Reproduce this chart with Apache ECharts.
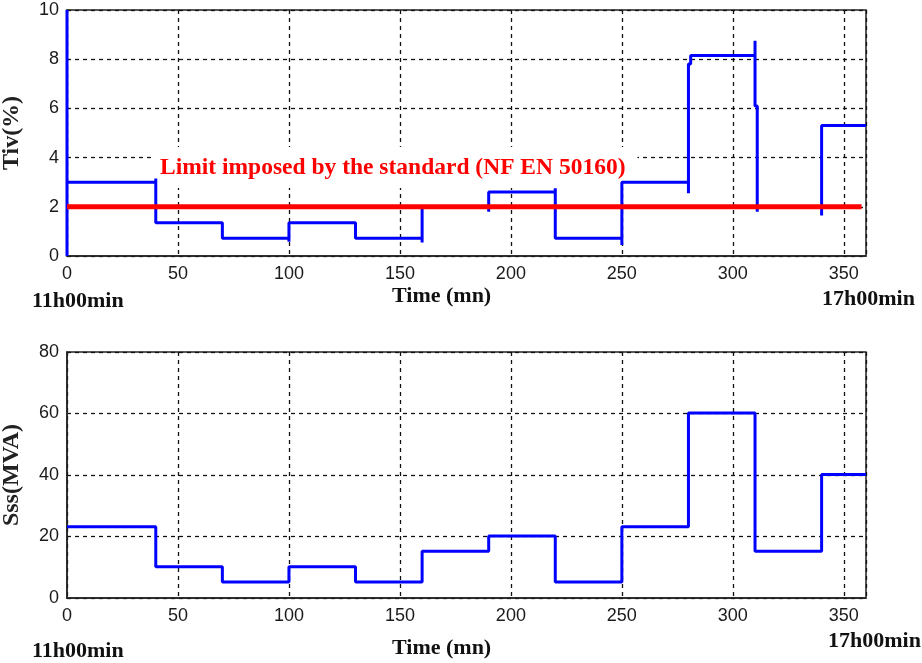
<!DOCTYPE html>
<html>
<head>
<meta charset="utf-8">
<script src="https://cdn.jsdelivr.net/npm/echarts@6/dist/echarts.min.js"></script>
<style>
html,body{margin:0;padding:0;background:#fff;}
#chart{width:922px;height:663px;}
</style>
</head>
<body>
<div id="chart"></div>
<script>
// Top panel: Tiv (%) vs time (mn)
var tivTime  = [0,0,0, 40,40,40, 70,70, 100,100,100, 130,130, 160,160,160, 190,190,190, 220,220,220, 250,250,250, 280,280,280, 281,281, 310,310,310, 311,311,311, 340,340,340, 360];
var tivValue = [0,10,3.0, 3.0,3.15,1.35, 1.35,0.72, 0.72,0.58,1.35, 1.35,0.72, 0.72,0.55,2.0, 2.0,1.8,2.6, 2.6,2.75,0.72, 0.72,0.45,3.0, 3.0,2.55,7.8, 7.8,8.15, 8.15,8.75,6.1, 6.1,1.8,2.0, 2.0,1.65,5.3, 5.3];
// Limit imposed by the standard
var limitTime  = [0, 358];
var limitValue = [2, 2];
// Bottom panel: Sss (MVA) vs time (mn), stepwise
var sssTime  = [0, 40, 70, 100, 130, 160, 190, 220, 250, 280, 310, 340, 360];
var sssValue = [23.2, 10.2, 5.2, 10.2, 5.2, 15.2, 20.2, 5.2, 23.2, 60.2, 15.2, 40.2, 40.2];
// Axis settings
var xMin = 0, xMax = 360, xStep = 50;
var tivMin = 0, tivMax = 10, tivStep = 2;
var sssMin = 0, sssMax = 80, sssStep = 20;

function pairs(xs, ys){ return xs.map(function(x,i){ return [x, ys[i]]; }); }

var chart = echarts.init(document.getElementById('chart'), null, {renderer:'canvas'});

var tickFont = {color:'#1a1a1a', fontSize:18, fontFamily:'Liberation Sans, Arial, sans-serif'};
var splitDash = {show:true, lineStyle:{color:'#111', type:[4,4], width:1.3}};
var nameFont = {color:'#222', fontSize:24, fontWeight:'bold', fontFamily:'Liberation Serif, Times New Roman, serif'};

function xAxis(gi){
  return {type:'value', gridIndex:gi, min:xMin, max:xMax, interval:xStep,
    axisLine:{show:true, lineStyle:{color:'#222', width:1.5}},
    axisTick:{show:false},
    axisLabel:Object.assign({margin:9}, tickFont),
    splitLine:splitDash};
}
function yAxis(gi, mn, mx, st, name){
  return {type:'value', gridIndex:gi, min:mn, max:mx, interval:st,
    name:name, nameLocation:'middle', nameGap:43, nameTextStyle:nameFont,
    axisLine:{show:true, lineStyle:{color:'#222', width:1.5}},
    axisTick:{show:false},
    axisLabel:Object.assign({margin:8}, tickFont),
    splitLine:splitDash};
}

var serifBold = 'bold 22px "Liberation Serif", "Times New Roman", serif';

chart.setOption({
  animation:false,
  backgroundColor:'#fff',
  grid:[
    {left:67, top:10, right:56, height:246, containLabel:false, outerBoundsMode:'none', show:true, borderColor:'#222', borderWidth:1.5, backgroundColor:'transparent'},
    {left:67, top:352, right:56, height:246, containLabel:false, outerBoundsMode:'none', show:true, borderColor:'#222', borderWidth:1.5, backgroundColor:'transparent'}
  ],
  xAxis:[xAxis(0), xAxis(1)],
  yAxis:[yAxis(0, tivMin, tivMax, tivStep, 'Tiv(%)'), yAxis(1, sssMin, sssMax, sssStep, 'Sss(MVA)')],
  graphic:[
    {type:'text', z:1, left:153, top:147, style:{text:'Limit imposed by the standard (NF EN 50160)', font:'bold 23.5px "Liberation Serif", "Times New Roman", serif', fill:'#ff0000', backgroundColor:'#fff', padding:[9,12,8,7]}},
    {type:'text', left:392, top:285, style:{text:'Time (mn)', font:serifBold, fill:'#111'}},
    {type:'text', left:32, top:290, style:{text:'11h00min', font:serifBold, fill:'#111'}},
    {type:'text', left:822, top:288, style:{text:'17h00min', font:serifBold, fill:'#111'}},
    {type:'text', left:392, top:637, style:{text:'Time (mn)', font:serifBold, fill:'#111'}},
    {type:'text', left:32, top:640, style:{text:'11h00min', font:serifBold, fill:'#111'}},
    {type:'text', left:828, top:630, style:{text:'17h00min', font:serifBold, fill:'#111'}}
  ],
  series:[
    {type:'line', xAxisIndex:0, yAxisIndex:0, data:pairs(tivTime, tivValue), showSymbol:false, symbol:'none', z:3,
      lineStyle:{color:'#0000ff', width:3}},
    {type:'line', xAxisIndex:0, yAxisIndex:0, data:pairs(limitTime, limitValue), showSymbol:false, symbol:'none', z:4,
      lineStyle:{color:'#ff0000', width:5}},
    {type:'line', xAxisIndex:1, yAxisIndex:1, data:pairs(sssTime, sssValue), step:'end', showSymbol:false, symbol:'none', z:3,
      lineStyle:{color:'#0000ff', width:3}}
  ]
});
</script>
</body>
</html>
